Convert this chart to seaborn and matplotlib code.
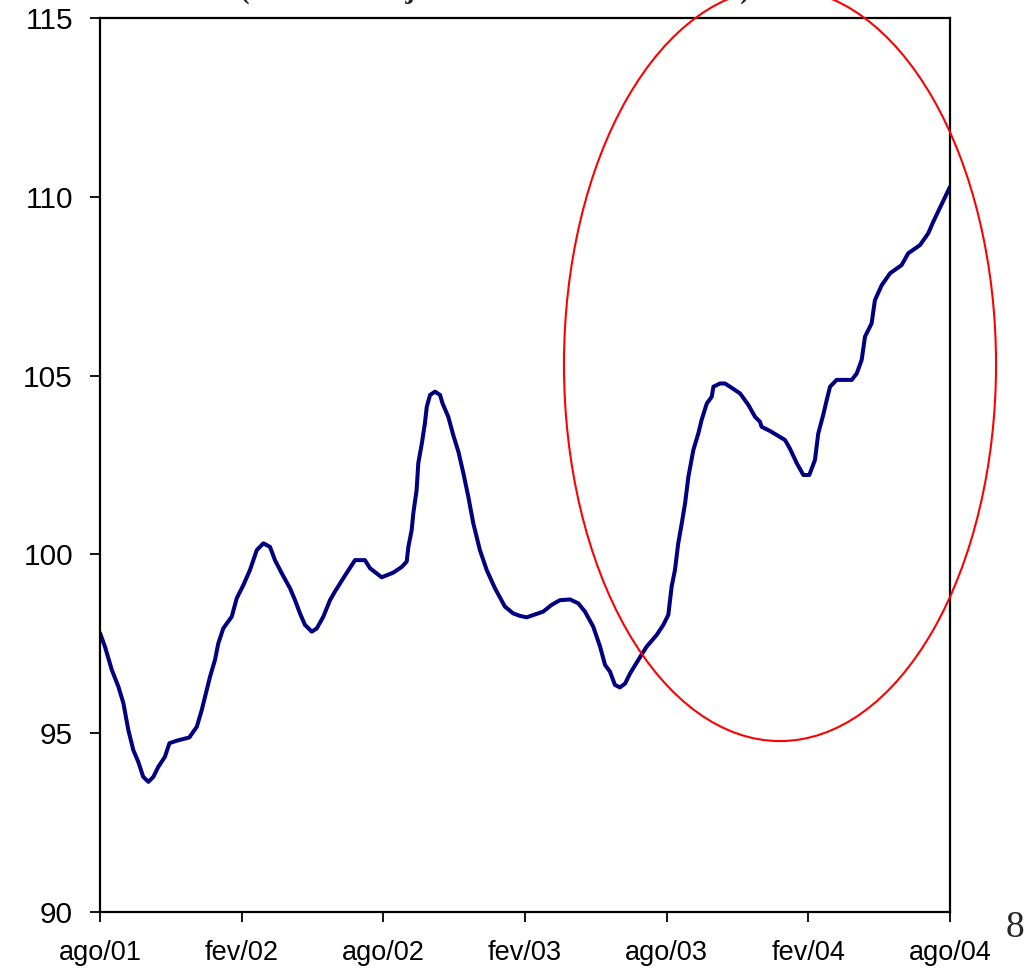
import matplotlib
matplotlib.use("Agg")
import matplotlib.pyplot as plt
from matplotlib.patches import Ellipse
import seaborn as sns
import pandas as pd

# months elapsed since ago/01
months = [0.00, 0.21, 0.50, 0.78, 0.99, 1.20, 1.41, 1.62, 1.83, 2.05, 2.26, 2.47, 2.75, 2.94,
          3.25, 3.78, 4.10, 4.31, 4.45, 4.66, 4.87, 5.01, 5.22, 5.58, 5.79, 6.07, 6.35, 6.64,
          6.92, 7.20, 7.41, 7.70, 8.05, 8.26, 8.47, 8.68, 8.97, 9.18, 9.46, 9.74, 9.95, 10.30,
          10.80, 11.22, 11.44, 11.93, 12.42, 12.78, 12.99, 13.06, 13.20, 13.27, 13.41, 13.48,
          13.63, 13.76, 13.84, 13.98, 14.19, 14.40, 14.51, 14.75, 14.96, 15.18, 15.39, 15.60,
          15.81, 16.09, 16.38, 16.73, 17.15, 17.50, 17.79, 18.07, 18.77, 19.13, 19.48, 19.91,
          20.26, 20.54, 20.89, 21.18, 21.39, 21.60, 21.81, 22.02, 22.24, 22.45, 22.80, 23.15,
          23.58, 23.86, 24.07, 24.21, 24.35, 24.49, 24.64, 24.78, 24.92, 25.13, 25.34, 25.48,
          25.70, 25.91, 25.98, 26.26, 26.47, 26.68, 27.11, 27.46, 27.74, 27.95, 28.02, 28.38,
          28.66, 29.01, 29.22, 29.51, 29.79, 30.04, 30.28, 30.42, 30.63, 30.78, 30.92, 31.20,
          31.84, 32.05, 32.26, 32.40, 32.68, 32.82, 33.11, 33.46, 33.95, 34.23, 34.73, 35.08,
          35.29, 36.00]
values = [97.80, 97.42, 96.77, 96.30, 95.84, 95.09, 94.53, 94.20, 93.78, 93.64, 93.78, 94.06, 94.34, 94.72,
          94.79, 94.88, 95.18, 95.65, 96.02, 96.58, 97.05, 97.51, 97.93, 98.26, 98.77, 99.14, 99.56, 100.12,
          100.31, 100.21, 99.84, 99.47, 99.05, 98.72, 98.35, 98.03, 97.84, 97.93, 98.26, 98.72, 98.96, 99.33,
          99.84, 99.84, 99.61, 99.36, 99.49, 99.65, 99.80, 100.21, 100.68, 101.15, 101.80, 102.55,
          103.10, 103.66, 104.13, 104.46, 104.55, 104.46, 104.22, 103.85, 103.34, 102.87, 102.27, 101.61,
          100.87, 100.12, 99.56, 99.05, 98.54, 98.35, 98.28, 98.24, 98.40, 98.59, 98.72, 98.74,
          98.63, 98.40, 97.98, 97.42, 96.91, 96.72, 96.35, 96.28, 96.39, 96.67, 97.05, 97.42,
          97.75, 98.03, 98.31, 99.10, 99.56, 100.31, 100.87, 101.43, 102.17, 102.92, 103.38, 103.76,
          104.22, 104.41, 104.69, 104.78, 104.78, 104.69, 104.50, 104.18, 103.85, 103.71, 103.57, 103.45,
          103.34, 103.20, 102.96, 102.55, 102.22, 102.22, 102.64, 103.38, 103.90, 104.32, 104.69, 104.88,
          104.88, 105.06, 105.44, 106.09, 106.46, 107.11, 107.53, 107.86, 108.09, 108.42, 108.65, 108.98,
          109.30, 110.28]

tick_months = [0, 6, 12, 18, 24, 30, 36]
tick_labels = ["ago/01", "fev/02", "ago/02", "fev/03", "ago/03", "fev/04", "ago/04"]
y_ticks = [90, 95, 100, 105, 110, 115]
title_text = "(Índice com ajuste sazonal - média móvel)"
page_number = "8"

df = pd.DataFrame({"mes": months, "indice": values})

sns.set_theme(style="white")
plt.rcParams["font.family"] = ["Liberation Sans", "DejaVu Sans"]

fig = plt.figure(figsize=(10.31, 9.69), dpi=100)
ax = fig.add_axes([100 / 1031, 57 / 969, 850 / 1031, 894 / 969])

sns.lineplot(data=df, x="mes", y="indice", ax=ax, color="#000080", linewidth=2.9)

ax.set_xlim(0, 36)
ax.set_ylim(90, 115)
ax.set_xticks(tick_months)
ax.set_xticklabels(tick_labels, fontsize=19.5, color="black")
ax.set_yticks(y_ticks)
ax.set_yticklabels([str(v) for v in y_ticks], fontsize=21.5, color="black")
ax.set_xlabel("")
ax.set_ylabel("")
ax.tick_params(axis="x", direction="out", length=7.5, width=1.3, pad=13, colors="black", bottom=True)
ax.tick_params(axis="y", direction="out", length=7.5, width=1.3, pad=12, colors="black", left=True)
for sp in ax.spines.values():
    sp.set_visible(True)
    sp.set_color("black")
    sp.set_linewidth(1.6)
ax.grid(False)

ell = Ellipse((28.80, 105.31), width=18.30, height=21.06, fill=False,
              edgecolor="#ff0000", linewidth=1.5, clip_on=False, zorder=5)
ax.add_patch(ell)

fig.text(240 / 1031, 1 + 2 / 969, title_text, fontsize=20.6, fontweight="bold",
         family=["Liberation Serif", "DejaVu Serif"], ha="left", va="baseline")
fig.text(1015 / 1031, 1 - 928 / 969, page_number, fontsize=27,
         family=["Liberation Serif", "DejaVu Serif"], ha="center", va="center")

fig.savefig("out.png", dpi=100)
